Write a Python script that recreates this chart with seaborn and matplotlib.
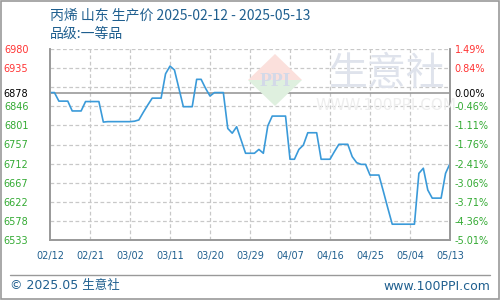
import matplotlib
matplotlib.use("Agg")
import matplotlib.pyplot as plt
from matplotlib.patches import Polygon, Rectangle
from matplotlib.lines import Line2D
import seaborn as sns
import pandas as pd
import numpy as np

# ---- data ----
dates = pd.date_range("2025-02-12", "2025-05-13", freq="D")
prices = [6878, 6878, 6858, 6858, 6858, 6835, 6835, 6835, 6857, 6857,
          6857, 6857, 6809, 6810, 6810, 6810, 6810, 6810, 6810, 6811,
          6814, 6832, 6849, 6865, 6865, 6865, 6922, 6940, 6931, 6888,
          6845, 6845, 6845, 6909, 6909, 6888, 6870, 6878, 6878, 6878,
          6794, 6783, 6798, 6767, 6736, 6736, 6736, 6745, 6736, 6800,
          6823, 6823, 6823, 6823, 6722, 6722, 6745, 6755, 6784, 6784,
          6784, 6722, 6722, 6722, 6740, 6757, 6757, 6757, 6728, 6714,
          6710, 6710, 6685, 6685, 6685, 6647, 6608, 6570, 6570, 6570,
          6570, 6570, 6570, 6689, 6701, 6650, 6631, 6631, 6631, 6689,
          6712]
base_price = 6878
x_tick_labels = ["02/12", "02/21", "03/02", "03/11", "03/20", "03/29",
                 "04/07", "04/16", "04/25", "05/04", "05/13"]
left_tick_values = [6533, 6578, 6622, 6667, 6712, 6757, 6801, 6846, 6878, 6935, 6980]
left_tick_labels = ["6533", "6578", "6622", "6667", "6712", "6757", "6801", "6846", "6878", "6935", "6980"]
right_tick_labels = ["-5.01%", "-4.36%", "-3.71%", "-3.06%", "-2.41%", "-1.76%", "-1.11%", "-0.46%", "0.00%", "0.84%", "1.49%"]
grid_values = [6533, 6577.7, 6622.4, 6667.1, 6711.8, 6756.5, 6801.2, 6845.9, 6890.6, 6935.3, 6980]
title_line1 = "丙烯 山东 生产价 2025-02-12 - 2025-05-13"
title_line2 = "品级:一等品"
footer_left = "© 2025.05 生意社"
footer_right = "www.100PPI.com"

df = pd.DataFrame({"date": dates, "price": prices})
df["day"] = (df["date"] - df["date"].iloc[0]).dt.days

sns.set_theme(style="white")
plt.rcParams["font.family"] = ["DejaVu Sans", "Noto Sans CJK SC"]

RED = "#ff3333"
GREEN = "#33aa33"
BLUE_TXT = "#1f5f8f"
GRID = "#c8c8c8"
SPINE = "#999999"
LINE = "#3a9ad9"

fig = plt.figure(figsize=(5, 3), dpi=100)
ax = fig.add_axes([0.1, 0.2, 0.8, 1 - 49 / 300 - 0.2])

# watermark (figure coordinates)
def fx(px): return px / 500
def fy(py): return 1 - py / 300
fig.patches.append(Polygon([(fx(275), fy(54)), (fx(302), fy(80)), (fx(248), fy(80))],
                           closed=True, transform=fig.transFigure, facecolor="#fbe0dc", edgecolor="none", zorder=0))
fig.patches.append(Polygon([(fx(248), fy(80)), (fx(302), fy(80)), (fx(275), fy(106))],
                           closed=True, transform=fig.transFigure, facecolor="#dff0df", edgecolor="none", zorder=0))
fig.text(fx(275), fy(82), "PPI", ha="center", va="center", fontsize=14, color="#d3d9e8",
         family="Liberation Serif", weight="bold", zorder=0)
fig.text(fx(387), fy(74), "生意社", ha="center", va="center", fontsize=28, color="#dfe3ec",
         family=["Noto Sans CJK SC"], zorder=0)
fig.text(fx(386), fy(105), "WWW.100PPI.COM", ha="center", va="center", fontsize=11, color="#eeeeee", zorder=0)

ax.set_facecolor("none")
ax.patch.set_alpha(0)

sns.lineplot(data=df, x="day", y="price", ax=ax, color=LINE, linewidth=1.2, zorder=5)

ax.set_xlim(0, 90)
ax.set_ylim(6533, 6980)

for g in grid_values:
    ax.axhline(g, color=GRID, linestyle=(0, (3, 2)), linewidth=0.9, zorder=1)
for d in range(9, 90, 9):
    ax.axvline(d, color=GRID, linestyle=(0, (3, 2)), linewidth=0.9, zorder=1)
ax.axhline(base_price, color=SPINE, linewidth=1.2, zorder=2)

ax.set_xticks(list(range(0, 91, 9)))
ax.set_xticklabels(x_tick_labels, fontsize=7, color=BLUE_TXT)
ax.set_yticks(left_tick_values)
ax.set_yticklabels(left_tick_labels, fontsize=7)
ax.tick_params(axis="x", length=0, pad=8)
ax.tick_params(axis="y", length=0, pad=15.5)
for lbl, v in zip(ax.get_yticklabels(), left_tick_values):
    lbl.set_color(RED if v > base_price else ("black" if v == base_price else GREEN))
ax.set_xlabel("")
ax.set_ylabel("")

ax2 = ax.twinx()
ax2.set_ylim(ax.get_ylim())
ax2.set_yticks(left_tick_values)
ax2.set_yticklabels(right_tick_labels, fontsize=7)
ax2.tick_params(axis="y", length=0, pad=3.5)
for lbl, v in zip(ax2.get_yticklabels(), left_tick_values):
    lbl.set_color(RED if v > base_price else ("black" if v == base_price else GREEN))

for a in (ax, ax2):
    a.spines["top"].set_visible(False)
    for s in ("left", "right", "bottom"):
        a.spines[s].set_color(SPINE)
        a.spines[s].set_linewidth(1.2)

fig.text(fx(50), fy(15), title_line1, ha="left", va="center", fontsize=10, color=BLUE_TXT,
         family=["Noto Sans CJK SC", "DejaVu Sans"])
fig.text(fx(50), fy(34), title_line2, ha="left", va="center", fontsize=10, color=BLUE_TXT,
         family=["Noto Sans CJK SC", "DejaVu Sans"])

fig.lines.append(Line2D([fx(10), fx(490)], [fy(275), fy(275)], transform=fig.transFigure,
                        color=SPINE, linewidth=1))
fig.text(fx(10), fy(286), footer_left, ha="left", va="center", fontsize=9, color=BLUE_TXT,
         family=["DejaVu Sans", "Noto Sans CJK SC"])
fig.text(fx(490), fy(286), footer_right, ha="right", va="center", fontsize=9, color=BLUE_TXT)

fig.patches.append(Rectangle((0.001, 0.002), 0.997, 0.995, transform=fig.transFigure,
                             fill=False, edgecolor=SPINE, linewidth=1.2))

fig.savefig("out.png", dpi=100)
